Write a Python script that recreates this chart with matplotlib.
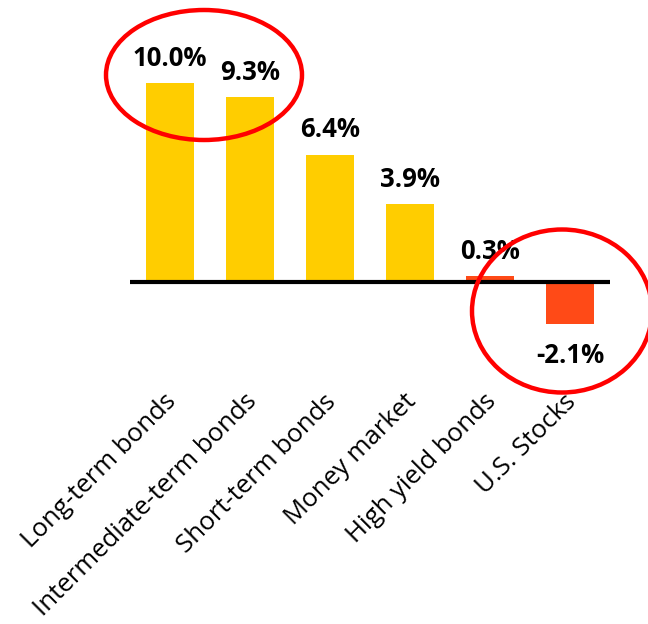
import numpy as np
import matplotlib.pyplot as plt
import matplotlib.transforms as mtransforms
from matplotlib.patches import Ellipse

categories = ["Long-term bonds", "Intermediate-term bonds", "Short-term bonds",
              "Money market", "High yield bonds", "U.S. Stocks"]
returns = [10.0, 9.3, 6.4, 3.9, 0.3, -2.1]
highlight = [False, False, False, False, True, True]

YELLOW = "#FFCD00"
ORANGE = "#FF4A17"

plt.rcParams['font.family'] = ['Open Sans', 'DejaVu Sans']

fig = plt.figure(figsize=(6.48, 6.24), dpi=100)
ax = fig.add_axes([0.2006, 0.4684, 0.7407, 0.4146])

x = np.arange(len(categories))
colors = [ORANGE if h else YELLOW for h in highlight]
ax.bar(x, returns, width=0.6, color=colors, zorder=2)
ax.axhline(0, color="black", lw=3, zorder=3)

for xi, v in zip(x, returns):
    if v >= 0:
        ax.annotate(f"{v:.1f}%", (xi, v), xytext=(0, 8), textcoords="offset points",
                    ha="center", va="bottom", fontsize=18.5, fontweight="bold")
    else:
        ax.annotate(f"{v:.1f}%", (xi, v), xytext=(0, -13), textcoords="offset points",
                    ha="center", va="top", fontsize=18.5, fontweight="bold")

ax.set_xlim(-0.5, 5.5)
ax.set_ylim(-2.5, 10.5)
ax.set_yticks([])
ax.set_xticks(x)
ax.set_xticklabels(categories, rotation=45, ha="right", rotation_mode="anchor",
                   fontsize=18.5)
ax.tick_params(axis="x", length=0, pad=40)
# nudge the slanted labels a little to the left
shift = mtransforms.ScaledTranslation(-6 / 100, -2 / 100, fig.dpi_scale_trans)
for lbl in ax.get_xticklabels():
    lbl.set_transform(lbl.get_transform() + shift)
for s in ax.spines.values():
    s.set_visible(False)

# red call-out rings, placed in inches on the figure
ring_kw = dict(fill=False, edgecolor="#FF0000", lw=3.2, transform=fig.dpi_scale_trans,
               clip_on=False, zorder=5)
fig.patches.append(Ellipse((2.04, 5.49), 1.96, 1.30, **ring_kw))
fig.patches.append(Ellipse((5.62, 3.13), 1.80, 1.63, **ring_kw))

fig.savefig("out.png", dpi=100)
